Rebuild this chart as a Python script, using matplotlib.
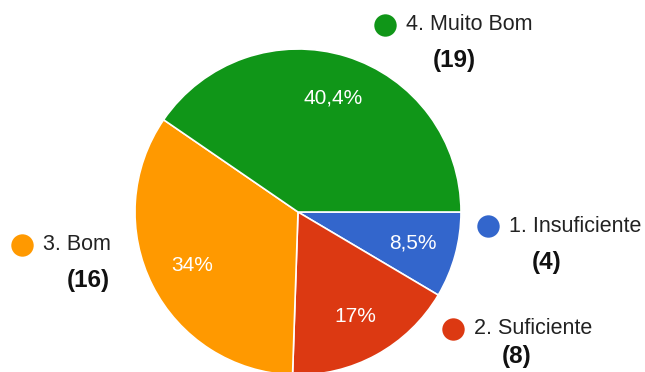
import matplotlib.pyplot as plt

# survey answers
categories = ["1. Insuficiente", "2. Suficiente", "3. Bom", "4. Muito Bom"]
counts = [4, 8, 16, 19]
colors = ["#3366cc", "#dc3912", "#ff9900", "#109618"]

W, H = 645, 372

plt.rcParams['font.family'] = ['Liberation Sans', 'DejaVu Sans']

fig = plt.figure(figsize=(W / 100, H / 100), dpi=100)
ax = fig.add_axes([0, 0, 1, 1])


def pct_fmt(p):
    s = f"{p:.1f}"
    if s.endswith(".0"):
        s = s[:-2]
    return s.replace(".", ",") + "%"


wedges, texts, autotexts = ax.pie(
    counts, colors=colors, startangle=0, counterclock=False,
    center=(298, H - 212), radius=163, frame=True,
    autopct=pct_fmt, pctdistance=0.73,
    wedgeprops=dict(edgecolor="white", linewidth=1.2),
    textprops=dict(color="white", fontsize=15))

# legend entries sitting next to each slice (pixel positions, y from top)
legend_pos = {
    "1. Insuficiente": (488, 226, 547, 262),
    "2. Suficiente": (453, 329, 517, 357),
    "3. Bom": (22, 245, 88, 281),
    "4. Muito Bom": (385, 25, 454, 61),
}
for cat, n, c in zip(categories, counts, colors):
    dx, dy, cx, cy = legend_pos[cat]
    ax.scatter(dx, H - dy, s=260, color=c, zorder=3, linewidths=0)
    ax.text(dx + 21, H - dy, cat, fontsize=15.5, color="#222222",
            ha="left", va="center")
    ax.text(cx, H - cy, f"({n})", fontsize=17.5, fontweight="bold",
            color="#111111", ha="center", va="center")

ax.set_xlim(0, W)
ax.set_ylim(0, H)
ax.set_aspect("equal")
ax.axis("off")

fig.savefig("out.png", dpi=100, facecolor="white")
